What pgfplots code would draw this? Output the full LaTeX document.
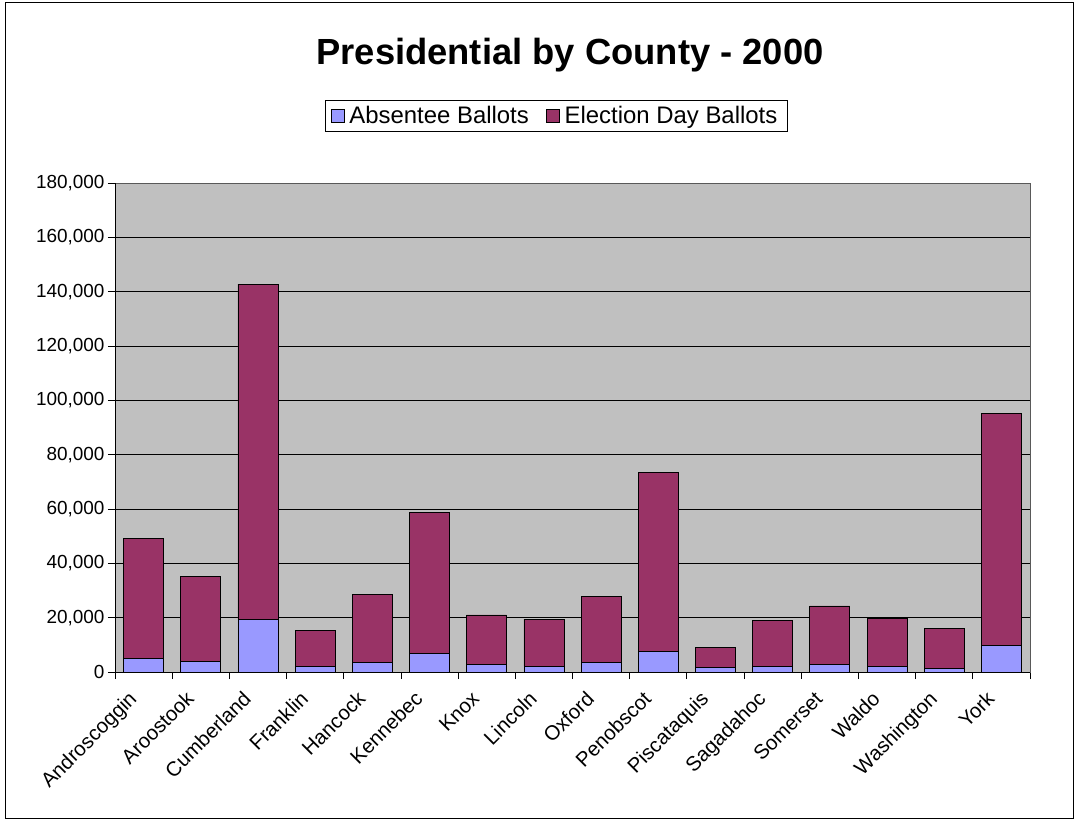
\documentclass[border=0pt]{standalone}
\usepackage{fontspec}
\setmainfont{Liberation Sans}
\usepackage{pgfplots}
\pgfplotsset{compat=1.18}
\definecolor{absc}{HTML}{9999FF}
\definecolor{elec}{HTML}{993366}
\definecolor{plotbg}{HTML}{C0C0C0}
\begin{document}
\begin{tikzpicture}[x=1bp,y=1bp]
\useasboundingbox (0,0) rectangle (1080,-822);
\fill[white] (0,0) rectangle (1080,-822);
\draw[black, line width=1bp] (5,-3) rectangle (1073,-818);
\node[font=\bfseries\fontsize{36.5}{40}\selectfont] at (570,-55) {Presidential by County - 2000};
\begin{axis}[
  at={(115bp,-672bp)}, anchor=south west,
  scale only axis, width=915bp, height=489bp,
  xmin=-0.5, xmax=15.5, ymin=0, ymax=180000,
  ybar stacked, bar width=40bp,
  axis background/.style={fill=plotbg},
  axis line style={draw=gray!70!black, line width=0.8bp},
  xtick={-0.5,0.5,...,15.5},
  x tick label as interval,
  xticklabels={Androscoggin,Aroostook,Cumberland,Franklin,Hancock,Kennebec,Knox,Lincoln,Oxford,Penobscot,Piscataquis,Sagadahoc,Somerset,Waldo,Washington,York},
  xticklabel style={rotate=45, anchor=north east, font=\fontsize{20.5}{22}\selectfont, inner sep=1bp, xshift=-18bp, yshift=5bp},
  ytick={0,20000,...,180000},
  ytick pos=left, xtick pos=bottom,
  scaled y ticks=false,
  yticklabel style={font=\fontsize{19}{22}\selectfont, /pgf/number format/.cd, fixed, 1000 sep={,}, assume math mode=true},
  tick style={draw=black, line width=0.8bp},
  tick align=outside, major tick length=7bp,
  ymajorgrids, xmajorgrids=false, grid style={black, line width=0.8bp},
  legend columns=2,
  legend style={at={(0.4825,1.138)}, anchor=center, draw=black, fill=white, line width=0.8bp,
    font=\fontsize{24}{28}\selectfont, inner xsep=5bp, inner ysep=4bp,
    /tikz/every even column/.append style={column sep=12bp},
    nodes={inner xsep=5bp}},
  legend image code/.code={\draw[#1, line width=0.8bp] (0bp,-6.5bp) rectangle (13bp,6.5bp);},
]
\addplot[fill=absc, draw=black, line width=0.8bp] coordinates {
(0,4900) (1,4000) (2,19500) (3,2200) (4,3400) (5,6900) (6,2700) (7,2200)
(8,3400) (9,7500) (10,1600) (11,2200) (12,2700) (13,2200) (14,1400) (15,9700)};
\addplot[fill=elec, draw=black, line width=0.8bp] coordinates {
(0,44300) (1,31300) (2,123300) (3,13200) (4,25100) (5,51900) (6,18300) (7,17300)
(8,24300) (9,66000) (10,7600) (11,16700) (12,21600) (13,17400) (14,14700) (15,85400)};
\legend{Absentee Ballots, Election Day Ballots}
\draw[black, line width=0.8bp] (rel axis cs:0,0) -- (rel axis cs:0,1);
\draw[black, line width=0.8bp] (rel axis cs:0,0) -- (rel axis cs:1,0);
\end{axis}
\end{tikzpicture}
\end{document}
